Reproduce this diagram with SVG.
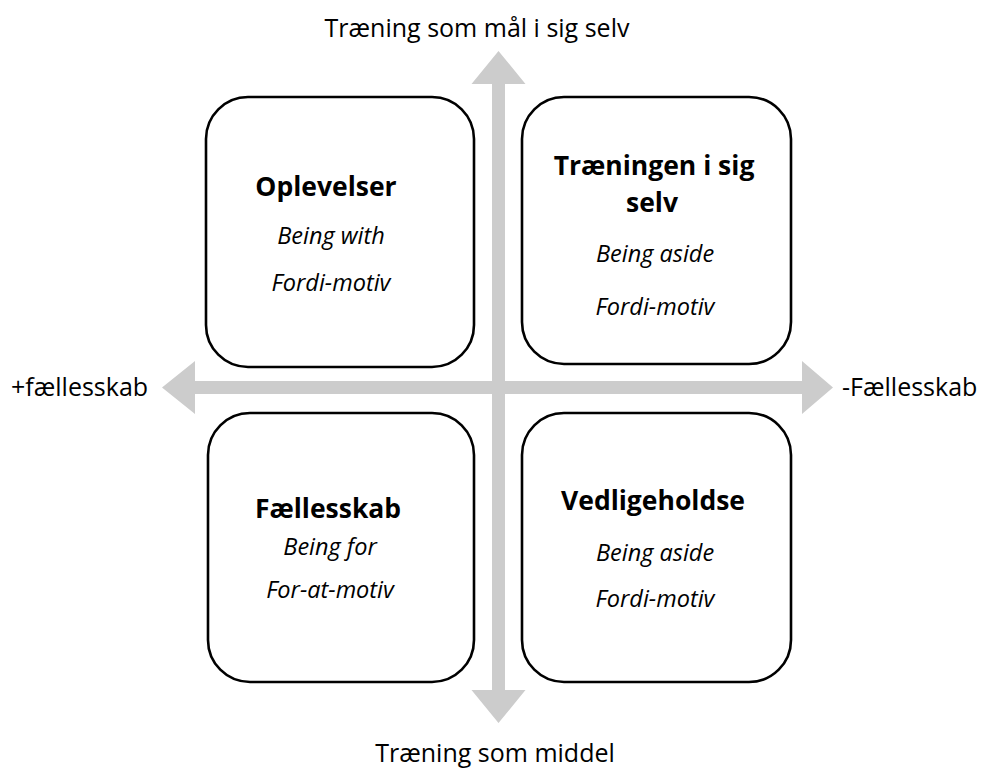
<svg xmlns="http://www.w3.org/2000/svg" width="982" height="769" viewBox="0 0 982 769">
<style>
.box{fill:#fff;stroke:#000;stroke-width:2.6}
.axis{fill:#cccccc;stroke:none}
.lbl{font-family:"Open Sans","Noto Sans",sans-serif;font-size:25px;fill:#000}
.ttl{font-family:"Open Sans","Noto Sans",sans-serif;font-size:26.5px;font-weight:bold;fill:#000;text-anchor:middle}
.sub{font-family:"Open Sans","Noto Sans",sans-serif;font-size:23.5px;font-style:italic;fill:#000;text-anchor:middle}
</style>
<rect width="982" height="769" fill="#fff"/>
<g id="connectors">
<polygon class="axis" points="498.5,51 525.5,84 505,84 505,690 525.5,690 498.5,723 471.5,690 492,690 492,84 471.5,84"/>
<polygon class="axis" points="162,387.5 195,361 195,381 802,381 802,361 833,387.5 802,414 802,394 195,394 195,414"/>
</g>
<g id="axis-labels">
<text class="lbl" x="477" y="37" text-anchor="middle">Træning som mål i sig selv</text>
<text class="lbl" x="495" y="762" text-anchor="middle">Træning som middel</text>
<text class="lbl" x="11" y="396">+fællesskab</text>
<text class="lbl" x="842" y="396">-Fællesskab</text>
</g>
<g id="oplevelser">
<rect class="box" x="206" y="97" width="268" height="270" rx="42"/>
<text class="ttl" x="326" y="196">Oplevelser</text>
<text class="sub" x="331" y="244">Being with</text>
<text class="sub" x="331" y="291">Fordi-motiv</text>
</g>
<g id="traeningen">
<rect class="box" x="522" y="97" width="269" height="267" rx="42"/>
<text class="ttl" x="654" y="175">Træningen i sig</text>
<text class="ttl" x="652" y="212">selv</text>
<text class="sub" x="655" y="262">Being aside</text>
<text class="sub" x="655" y="315">Fordi-motiv</text>
</g>
<g id="faellesskab">
<rect class="box" x="208" y="413" width="266" height="269" rx="42"/>
<text class="ttl" x="328" y="518">Fællesskab</text>
<text class="sub" x="330" y="555">Being for</text>
<text class="sub" x="330" y="598">For-at-motiv</text>
</g>
<g id="vedligeholdse">
<rect class="box" x="522" y="413" width="269" height="269" rx="42"/>
<text class="ttl" x="653" y="510">Vedligeholdse</text>
<text class="sub" x="655" y="561">Being aside</text>
<text class="sub" x="655" y="607">Fordi-motiv</text>
</g>
</svg>
